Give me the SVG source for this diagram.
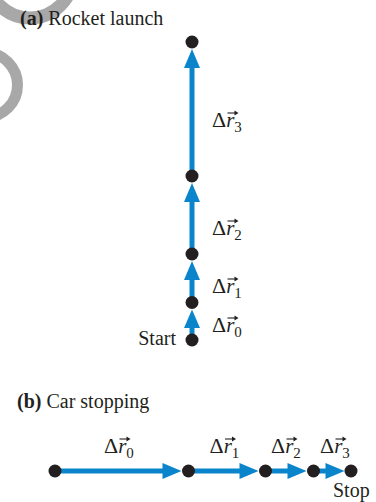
<svg xmlns="http://www.w3.org/2000/svg" width="376" height="502" viewBox="0 0 376 502">
<style>
.t{font-family:"Liberation Serif","Times New Roman",serif;font-size:20px;fill:#231f20}
.lab{font-family:"Liberation Serif","Times New Roman",serif;font-size:21px;fill:#231f20}
.D{font-size:22px}
.sub{font-size:15px}
.it{font-style:italic}
.dot{fill:#231f20}
.shaft{stroke:#0a85cc;stroke-width:5;fill:none}
.head{fill:#0a85cc}
.wm{fill:none;stroke:#a8a8a8}
</style>
<defs>
<g id="vec">
<line x1="0" y1="0" x2="8" y2="0" stroke="#231f20" stroke-width="1.1"/>
<polygon points="11,0 7,-2.4 7,2.4" fill="#231f20"/>
</g>
</defs>
<g id="watermark">
<circle class="wm" cx="30" cy="-25" r="43" stroke-width="13"/>
<circle class="wm" cx="-15" cy="85" r="32.5" stroke-width="11"/>
</g>
<text class="t" x="20" y="25"><tspan font-weight="bold">(a)</tspan> Rocket launch</text>
<text class="t" x="17" y="408"><tspan font-weight="bold">(b)</tspan> Car stopping</text>
<g id="connectors">
<line class="shaft" x1="192" y1="176" x2="192" y2="66"/>
<polygon class="head" points="192,49 184,68 200,68"/>
<line class="shaft" x1="192" y1="254" x2="192" y2="200"/>
<polygon class="head" points="192,183 184,202 200,202"/>
<line class="shaft" x1="192" y1="302.5" x2="192" y2="278"/>
<polygon class="head" points="192,261 184,280 200,280"/>
<line class="shaft" x1="192" y1="340" x2="192" y2="326"/>
<polygon class="head" points="192,309.5 184,328 200,328"/>
<line class="shaft" x1="55" y1="471" x2="164" y2="471"/>
<polygon class="head" points="181.5,471 162.5,463 162.5,479"/>
<line class="shaft" x1="188.5" y1="471" x2="241" y2="471"/>
<polygon class="head" points="258.5,471 239.5,463 239.5,479"/>
<line class="shaft" x1="265.5" y1="471" x2="289" y2="471"/>
<polygon class="head" points="306.5,471 287.5,463 287.5,479"/>
<line class="shaft" x1="313.5" y1="471" x2="327" y2="471"/>
<polygon class="head" points="344.5,471 325.5,463 325.5,479"/>
</g>
<g id="rocket-p4"><circle class="dot" cx="192" cy="42" r="6.5"/></g>
<g id="rocket-p3"><circle class="dot" cx="192" cy="176" r="6.5"/></g>
<g id="rocket-p2"><circle class="dot" cx="192" cy="254" r="6.5"/></g>
<g id="rocket-p1"><circle class="dot" cx="192" cy="302.5" r="6.5"/></g>
<g id="rocket-start"><circle class="dot" cx="192" cy="340" r="6.5"/><text class="t" x="176" y="345" text-anchor="end">Start</text></g>
<g id="car-p0"><circle class="dot" cx="55" cy="471" r="6.5"/></g>
<g id="car-p1"><circle class="dot" cx="188.5" cy="471" r="6.5"/></g>
<g id="car-p2"><circle class="dot" cx="265.5" cy="471" r="6.5"/></g>
<g id="car-p3"><circle class="dot" cx="313.5" cy="471" r="6.5"/></g>
<g id="car-stop"><circle class="dot" cx="351" cy="471" r="6.5"/><text class="t" x="333" y="497">Stop</text></g>
<g id="labels">
<text class="lab" x="212" y="127"><tspan class="D">Δ</tspan><tspan class="it">r</tspan><tspan class="sub" dy="5">3</tspan></text>
<use href="#vec" x="227.5" y="113"/>
<text class="lab" x="212" y="235"><tspan class="D">Δ</tspan><tspan class="it">r</tspan><tspan class="sub" dy="5">2</tspan></text>
<use href="#vec" x="227.5" y="221"/>
<text class="lab" x="212" y="293"><tspan class="D">Δ</tspan><tspan class="it">r</tspan><tspan class="sub" dy="5">1</tspan></text>
<use href="#vec" x="227.5" y="279"/>
<text class="lab" x="212" y="332"><tspan class="D">Δ</tspan><tspan class="it">r</tspan><tspan class="sub" dy="5">0</tspan></text>
<use href="#vec" x="227.5" y="318"/>
<text class="lab" x="104" y="453"><tspan class="D">Δ</tspan><tspan class="it">r</tspan><tspan class="sub" dy="5">0</tspan></text>
<use href="#vec" x="119.5" y="439"/>
<text class="lab" x="209.5" y="453"><tspan class="D">Δ</tspan><tspan class="it">r</tspan><tspan class="sub" dy="5">1</tspan></text>
<use href="#vec" x="225" y="439"/>
<text class="lab" x="271" y="453"><tspan class="D">Δ</tspan><tspan class="it">r</tspan><tspan class="sub" dy="5">2</tspan></text>
<use href="#vec" x="286.5" y="439"/>
<text class="lab" x="320" y="453"><tspan class="D">Δ</tspan><tspan class="it">r</tspan><tspan class="sub" dy="5">3</tspan></text>
<use href="#vec" x="335.5" y="439"/>
</g>
</svg>
